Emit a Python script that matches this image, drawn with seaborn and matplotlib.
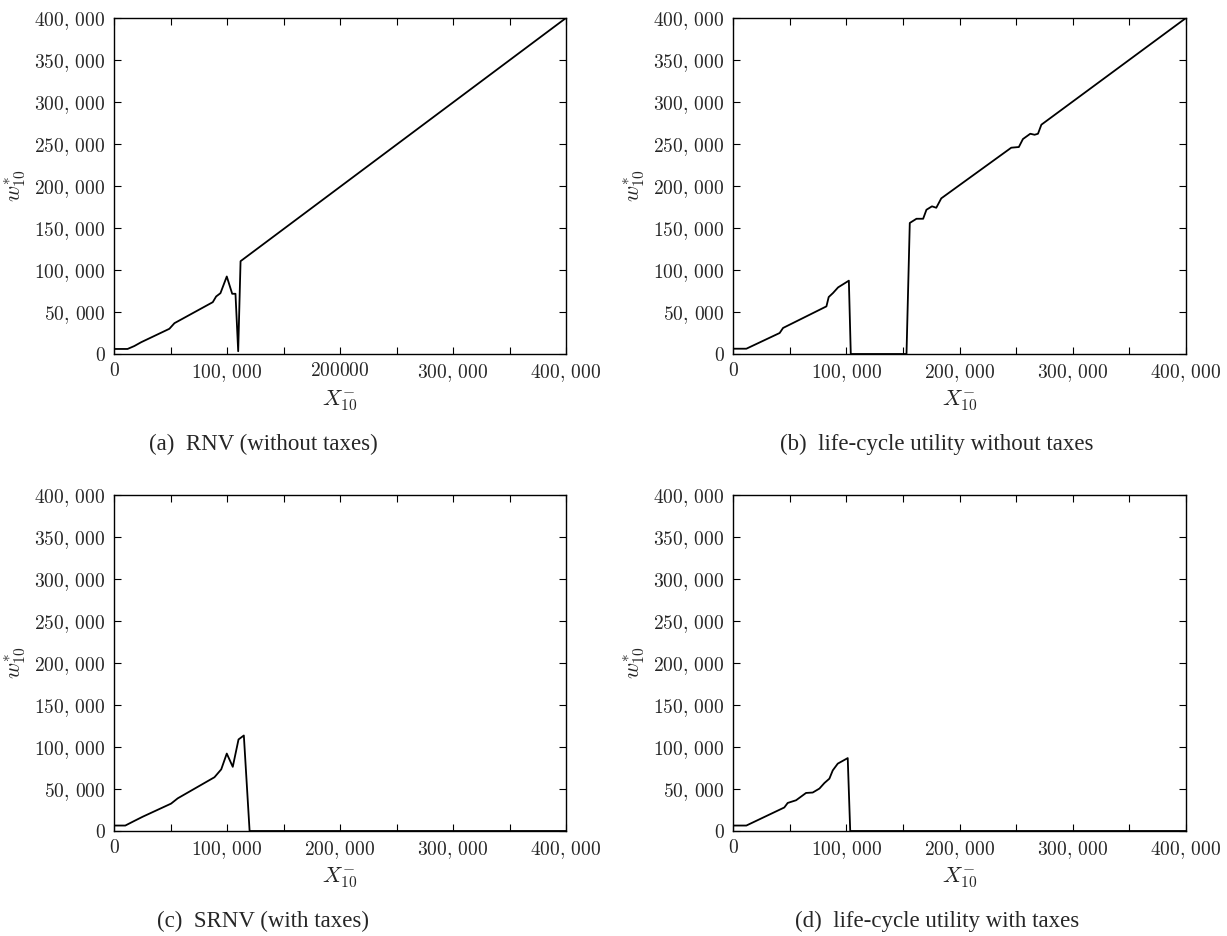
import numpy as np
import pandas as pd
import matplotlib
matplotlib.use("Agg")
import matplotlib.pyplot as plt
import seaborn as sns

# datos (X_10^- , w*_10)
x_a = [0, 12000, 18000, 24000, 49000, 53500, 87400, 90400, 94200, 99800, 104600, 107500,
       109900, 112000, 400000]
y_a = [6000, 6000, 9500, 14000, 30000, 36700, 61700, 68500, 72400, 92300, 71700, 71700,
       3300, 110500, 400000]

x_b = [0, 11800, 41200, 44200, 82500, 84500, 88300, 92800, 102300, 104000, 153200,
       156100, 162000, 167900, 170800, 175700, 179500, 183900, 245700, 252400,
       256000, 262500, 266300, 269300, 272300, 400000]
y_b = [6300, 6300, 25000, 31000, 56700, 67800, 72600, 79300, 87300, 0, 0,
       156000, 161000, 161000, 171700, 175800, 174100, 185300, 245600, 246400,
       255900, 262200, 261000, 262200, 273000, 400000]

x_c = [0, 10000, 18000, 25400, 50500, 56400, 88900, 94900, 99800, 105100, 110200,
       114900, 120000, 400000]
y_c = [6500, 6500, 12000, 17000, 32600, 38900, 64000, 73400, 92200, 76400, 109000,
       113700, 0, 0]

x_d = [0, 11800, 45300, 48300, 55700, 64500, 70400, 76300, 80700, 85100, 88100,
       92500, 101300, 103500, 400000]
y_d = [6500, 6500, 28000, 33400, 36600, 45300, 45800, 50500, 57100, 62300, 72200,
       80200, 86800, 0, 0]

captions = ["(a)  RNV (without taxes)", "(b)  life-cycle utility without taxes",
            "(c)  SRNV (with taxes)", "(d)  life-cycle utility with taxes"]

y_ticks = list(range(0, 400001, 50000))
y_labels = ["$0$"] + [f"${v // 1000},\\,000$" for v in y_ticks[1:]]
x_ticks = [0, 100000, 200000, 300000, 400000]
x_labels = ["$0$", "$100,\\,000$", "$200,\\,000$", "$300,\\,000$", "$400,\\,000$"]
x_labels_a = ["$0$", "$100,\\,000$", "$200000$", "$300,\\,000$", "$400,\\,000$"]

sns.set_theme(style="ticks")
plt.rcParams["font.family"] = ["Liberation Serif", "DejaVu Serif"]
plt.rcParams["mathtext.fontset"] = "cm"

fig = plt.figure(figsize=(12.27, 9.36), dpi=100)
W, H = 1227, 936
boxes = [(114, 18, 566, 354), (733, 18, 1186, 354),
         (114, 495, 566, 831), (733, 495, 1186, 831)]
cap_x = [263, 937, 263, 937]
series = [(x_a, y_a), (x_b, y_b), (x_c, y_c), (x_d, y_d)]

for i, ((l, t, r, b), (xs, ys)) in enumerate(zip(boxes, series)):
    ax = fig.add_axes([l / W, 1 - b / H, (r - l) / W, (b - t) / H])
    df = pd.DataFrame({"X": xs, "w": ys})
    sns.lineplot(data=df, x="X", y="w", ax=ax, color="black", linewidth=1.3,
                 estimator=None, sort=False)
    ax.set_xlim(0, 400000)
    ax.set_ylim(0, 400000)
    ax.set_xticks(x_ticks)
    ax.set_xticklabels(x_labels_a if i == 0 else x_labels, fontsize=14)
    ax.set_xticks(range(0, 400001, 50000), minor=True)
    ax.set_yticks(y_ticks)
    ax.set_yticklabels(y_labels, fontsize=14)
    ax.tick_params(which="both", direction="in", top=True, right=True,
                   length=5, width=0.8, color="black", pad=6)
    for s in ax.spines.values():
        s.set_color("black")
        s.set_linewidth(1.0)
    ax.set_xlabel("$X^{-}_{10}$", fontsize=16, labelpad=3)
    ax.set_ylabel("$w^{*}_{10}$", fontsize=16, labelpad=5)
    fig.text(cap_x[i] / W, 1 - (b + 90) / H, captions[i], ha="center",
             va="center", fontsize=16.5)

fig.savefig("out.png", dpi=100)
